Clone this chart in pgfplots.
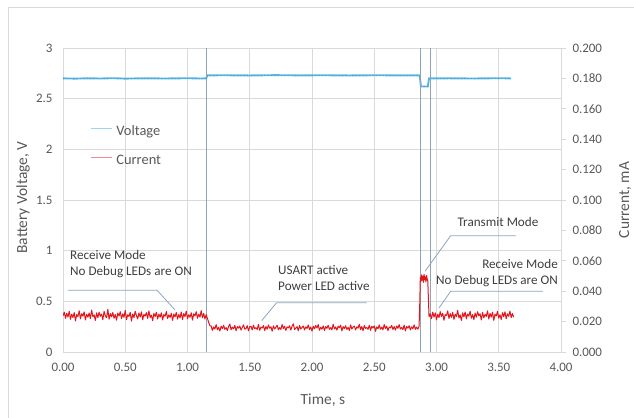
\documentclass[border=0pt]{standalone}
\usepackage{fontspec}
\setmainfont{Carlito}
\usepackage{pgfplots}
\usepackage{pgfplotstable}
\pgfplotsset{compat=1.18}
\definecolor{gridgray}{HTML}{D9D9D9}
\definecolor{labelgray}{HTML}{595959}
\definecolor{anngray}{HTML}{3F3F3F}
\definecolor{vblue}{HTML}{5BB9E4}
\definecolor{vdark}{HTML}{2E8CC8}
\definecolor{cred}{HTML}{E2171D}
\definecolor{callout}{HTML}{8DA6BE}
\definecolor{vline}{HTML}{8FA2B6}
\definecolor{legblue}{HTML}{9AD6EE}
\definecolor{legred}{HTML}{F08C8E}

\pgfplotstableread{
t v
0.00 2.700
0.10 2.698
0.20 2.701
0.30 2.699
0.40 2.702
0.50 2.698
0.60 2.700
0.70 2.701
0.80 2.699
0.90 2.700
1.00 2.702
1.10 2.699
1.15 2.700
1.16 2.730
1.30 2.731
1.50 2.729
1.70 2.732
1.90 2.730
2.10 2.731
2.30 2.729
2.50 2.731
2.70 2.730
2.865 2.730
2.875 2.620
2.930 2.620
2.940 2.700
3.10 2.701
3.30 2.699
3.50 2.702
3.60 2.700
}\voltdata

\pgfplotstableread{
t i
0.00 0.0238
0.01 0.0262
0.02 0.0221
0.03 0.0255
0.04 0.0230
0.05 0.0268
0.06 0.0215
0.07 0.0249
0.08 0.0227
0.09 0.0259
0.10 0.0204
0.11 0.0246
0.12 0.0233
0.13 0.0271
0.14 0.0218
0.15 0.0252
0.16 0.0236
0.17 0.0264
0.18 0.0211
0.19 0.0248
0.20 0.0229
0.21 0.0257
0.22 0.0219
0.23 0.0276
0.24 0.0232
0.25 0.0244
0.26 0.0207
0.27 0.0258
0.28 0.0226
0.29 0.0262
0.30 0.0235
0.31 0.0249
0.32 0.0213
0.33 0.0267
0.34 0.0238
0.35 0.0225
0.36 0.0281
0.37 0.0216
0.38 0.0253
0.39 0.0231
0.40 0.0260
0.41 0.0222
0.42 0.0247
0.43 0.0209
0.44 0.0256
0.45 0.0237
0.46 0.0265
0.47 0.0220
0.48 0.0251
0.49 0.0228
0.50 0.0273
0.51 0.0214
0.52 0.0245
0.53 0.0234
0.54 0.0261
0.55 0.0203
0.56 0.0250
0.57 0.0226
0.58 0.0268
0.59 0.0239
0.60 0.0218
0.61 0.0257
0.62 0.0230
0.63 0.0264
0.64 0.0212
0.65 0.0248
0.66 0.0236
0.67 0.0259
0.68 0.0221
0.69 0.0270
0.70 0.0227
0.71 0.0243
0.72 0.0206
0.73 0.0254
0.74 0.0232
0.75 0.0262
0.76 0.0217
0.77 0.0249
0.78 0.0229
0.79 0.0258
0.80 0.0211
0.81 0.0246
0.82 0.0235
0.83 0.0266
0.84 0.0220
0.85 0.0244
0.86 0.0227
0.87 0.0255
0.88 0.0208
0.89 0.0250
0.90 0.0231
0.91 0.0260
0.92 0.0216
0.93 0.0247
0.94 0.0224
0.95 0.0263
0.96 0.0213
0.97 0.0252
0.98 0.0233
0.99 0.0269
1.00 0.0219
1.01 0.0245
1.02 0.0228
1.03 0.0258
1.04 0.0210
1.05 0.0251
1.06 0.0237
1.07 0.0265
1.08 0.0222
1.09 0.0248
1.10 0.0230
1.11 0.0272
1.12 0.0225
1.13 0.0254
1.14 0.0217
1.15 0.0246
1.16 0.0221
1.17 0.0196
1.18 0.0172
1.19 0.0172
1.20 0.0142
1.21 0.0165
1.22 0.0151
1.23 0.0180
1.24 0.0146
1.25 0.0163
1.26 0.0138
1.27 0.0170
1.28 0.0154
1.29 0.0176
1.30 0.0149
1.31 0.0161
1.32 0.0141
1.33 0.0168
1.34 0.0184
1.35 0.0147
1.36 0.0164
1.37 0.0152
1.38 0.0175
1.39 0.0140
1.40 0.0167
1.41 0.0157
1.42 0.0171
1.43 0.0144
1.44 0.0162
1.45 0.0179
1.46 0.0150
1.47 0.0155
1.48 0.0173
1.49 0.0139
1.50 0.0166
1.51 0.0169
1.52 0.0145
1.53 0.0177
1.54 0.0153
1.55 0.0160
1.56 0.0148
1.57 0.0182
1.58 0.0143
1.59 0.0164
1.60 0.0158
1.61 0.0174
1.62 0.0141
1.63 0.0168
1.64 0.0150
1.65 0.0178
1.66 0.0156
1.67 0.0166
1.68 0.0137
1.69 0.0172
1.70 0.0152
1.71 0.0163
1.72 0.0176
1.73 0.0146
1.74 0.0161
1.75 0.0149
1.76 0.0181
1.77 0.0154
1.78 0.0169
1.79 0.0142
1.80 0.0165
1.81 0.0159
1.82 0.0173
1.83 0.0144
1.84 0.0170
1.85 0.0185
1.86 0.0148
1.87 0.0157
1.88 0.0167
1.89 0.0140
1.90 0.0175
1.91 0.0151
1.92 0.0162
1.93 0.0171
1.94 0.0145
1.95 0.0166
1.96 0.0155
1.97 0.0178
1.98 0.0147
1.99 0.0164
2.00 0.0138
2.01 0.0169
2.02 0.0153
2.03 0.0174
2.04 0.0158
2.05 0.0180
2.06 0.0143
2.07 0.0163
2.08 0.0150
2.09 0.0172
2.10 0.0141
2.11 0.0168
2.12 0.0156
2.13 0.0176
2.14 0.0149
2.15 0.0161
2.16 0.0146
2.17 0.0183
2.18 0.0152
2.19 0.0165
2.20 0.0144
2.21 0.0170
2.22 0.0159
2.23 0.0177
2.24 0.0139
2.25 0.0167
2.26 0.0154
2.27 0.0173
2.28 0.0148
2.29 0.0162
2.30 0.0142
2.31 0.0179
2.32 0.0151
2.33 0.0164
2.34 0.0171
2.35 0.0145
2.36 0.0166
2.37 0.0157
2.38 0.0182
2.39 0.0147
2.40 0.0168
2.41 0.0140
2.42 0.0174
2.43 0.0155
2.44 0.0161
2.45 0.0149
2.46 0.0176
2.47 0.0143
2.48 0.0169
2.49 0.0158
2.50 0.0172
2.51 0.0136
2.52 0.0165
2.53 0.0153
2.54 0.0178
2.55 0.0150
2.56 0.0163
2.57 0.0146
2.58 0.0181
2.59 0.0154
2.60 0.0170
2.61 0.0141
2.62 0.0164
2.63 0.0159
2.64 0.0175
2.65 0.0148
2.66 0.0167
2.67 0.0144
2.68 0.0171
2.69 0.0156
2.70 0.0180
2.71 0.0151
2.72 0.0162
2.73 0.0147
2.74 0.0177
2.75 0.0138
2.76 0.0168
2.77 0.0157
2.78 0.0173
2.79 0.0145
2.80 0.0166
2.81 0.0152
2.82 0.0179
2.83 0.0149
2.84 0.0164
2.85 0.0150
2.86 0.0169
2.865 0.0300
2.870 0.0490
2.875 0.0465
2.880 0.0508
2.885 0.0472
2.890 0.0499
2.895 0.0458
2.900 0.0511
2.905 0.0476
2.910 0.0494
2.915 0.0461
2.920 0.0503
2.925 0.0480
2.930 0.0468
2.935 0.0350
2.940 0.0232
2.95 0.0251
2.96 0.0219
2.97 0.0262
2.98 0.0230
2.99 0.0257
3.00 0.0212
3.01 0.0248
3.02 0.0226
3.03 0.0266
3.04 0.0234
3.05 0.0255
3.06 0.0209
3.07 0.0247
3.08 0.0239
3.09 0.0270
3.10 0.0221
3.11 0.0253
3.12 0.0228
3.13 0.0261
3.14 0.0215
3.15 0.0249
3.16 0.0233
3.17 0.0274
3.18 0.0224
3.19 0.0244
3.20 0.0207
3.21 0.0258
3.22 0.0231
3.23 0.0263
3.24 0.0218
3.25 0.0250
3.26 0.0236
3.27 0.0268
3.28 0.0222
3.29 0.0246
3.30 0.0213
3.31 0.0256
3.32 0.0229
3.33 0.0265
3.34 0.0238
3.35 0.0252
3.36 0.0211
3.37 0.0260
3.38 0.0225
3.39 0.0248
3.40 0.0234
3.41 0.0271
3.42 0.0217
3.43 0.0254
3.44 0.0230
3.45 0.0262
3.46 0.0208
3.47 0.0249
3.48 0.0237
3.49 0.0267
3.50 0.0223
3.51 0.0245
3.52 0.0214
3.53 0.0259
3.54 0.0232
3.55 0.0264
3.56 0.0219
3.57 0.0251
3.58 0.0235
3.59 0.0269
3.60 0.0226
3.61 0.0253
3.62 0.0229
}\currdata

\begin{document}
\begin{tikzpicture}
\useasboundingbox (0,0) rectangle (634bp,418bp);
\fill[white] (0,0) rectangle (634bp,418bp);
\draw[gridgray, line width=0.8pt] (8bp,0) -- (8bp,411bp) -- (634bp,411bp);
\pgfplotsset{common/.style={at={(63bp,66bp)}, anchor=south west,
  width=498bp, height=304bp, scale only axis, xmin=0, xmax=4,
  /pgf/number format/assume math mode=true,
  ticklabel style={font=\fontsize{13}{15}\selectfont, text=labelgray},
  label style={font=\fontsize{15.5}{18}\selectfont, text=labelgray}}}

\begin{axis}[common, ymin=0, ymax=3,
  xtick={0,0.5,...,4}, ytick={0,0.5,...,3},
  grid=major, major grid style={gridgray, line width=0.7pt},
  axis line style={draw=none}, tick style={draw=none},
  xticklabel style={/pgf/number format/.cd, fixed, fixed zerofill, precision=2, /tikz/.cd, yshift=-8bp},
  yticklabel style={/pgf/number format/.cd, fixed, precision=1, /tikz/.cd, xshift=-7bp},
  xlabel={Time, s}, ylabel={Battery Voltage, V},
  xlabel style={at={(axis description cs:0.522,-0.158)}, anchor=center},
  ylabel style={at={(axis description cs:-0.0803,0.508)}, anchor=center},
  clip=false]
\addplot[vblue, line width=1.9pt] table[x=t, y=v] {\voltdata};
\addplot[vdark, line width=0.7pt, dash pattern=on 1.2pt off 2.2pt, opacity=0.7] table[x=t, y=v] {\voltdata};
\addplot[vline, line width=0.55pt] coordinates {(1.15,0) (1.15,3)};
\addplot[vline, line width=0.55pt] coordinates {(2.87,0) (2.87,3)};
\addplot[vline, line width=0.55pt] coordinates {(2.95,0) (2.95,3)};
% callouts
\draw[callout, line width=0.8pt] (axis cs:0.04,0.61) -- (axis cs:0.755,0.61) -- (axis cs:0.90,0.415);
\draw[callout, line width=0.8pt] (axis cs:2.439,0.487) -- (axis cs:1.716,0.487) -- (axis cs:1.596,0.309);
\draw[callout, line width=0.8pt] (axis cs:3.639,1.148) -- (axis cs:3.114,1.148) -- (axis cs:2.908,0.797);
\draw[callout, line width=0.8pt] (axis cs:3.855,0.599) -- (axis cs:3.114,0.599) -- (axis cs:3.02,0.434);
\begin{scope}[every node/.style={font=\fontsize{13.2}{16}\selectfont, text=anngray, inner sep=0pt}]
\node[anchor=west, align=left] at (axis cs:0.056,0.864) {Receive Mode\\No Debug LEDs are ON};
\node[anchor=west, align=left] at (axis cs:1.727,0.73) {USART active\\Power LED active};
\node at (axis cs:3.494,1.283) {Transmit Mode};
\node[anchor=east, align=right] at (axis cs:3.976,0.78) {Receive Mode\\No Debug LEDs are ON};
\end{scope}
\end{axis}

\begin{axis}[common, ymin=0, ymax=0.2,
  axis y line*=right, axis x line=none, xtick=\empty,
  ytick={0,0.02,0.04,0.06,0.08,0.1,0.12,0.14,0.16,0.18,0.2},
  yticklabel style={/pgf/number format/.cd, fixed, fixed zerofill, precision=3, /tikz/.cd, xshift=3bp},
  tick align=outside, major tick length=5bp,
  tick style={gridgray, line width=0.7pt},
  axis line style={gridgray, line width=0.7pt},
  ylabel={Current, mA},
  ylabel style={at={(axis description cs:1.1285,0.5)}, anchor=center},
  legend cell align=left,
  legend image code/.code={\draw[line width=1.4pt, #1] (0bp,3.4bp) -- (21bp,3.4bp);},
  legend style={at={(axis description cs:0.0542,0.745)}, anchor=north west,
    draw=none, fill=none, inner sep=0pt, outer sep=0pt,
    font=\fontsize{14.5}{17}\selectfont, text=labelgray, row sep=16bp,
    nodes={inner sep=0pt, text height=10bp, text depth=3bp},
    /tikz/every odd column/.append style={column sep=4bp}}]
\addlegendimage{draw=legblue}
\addlegendentry{Voltage}
\addlegendimage{draw=legred}
\addlegendentry{Current}
\addplot[cred, line width=1.0pt, line join=round, forget plot] table[x=t, y=i] {\currdata};
\end{axis}
\end{tikzpicture}
\end{document}
